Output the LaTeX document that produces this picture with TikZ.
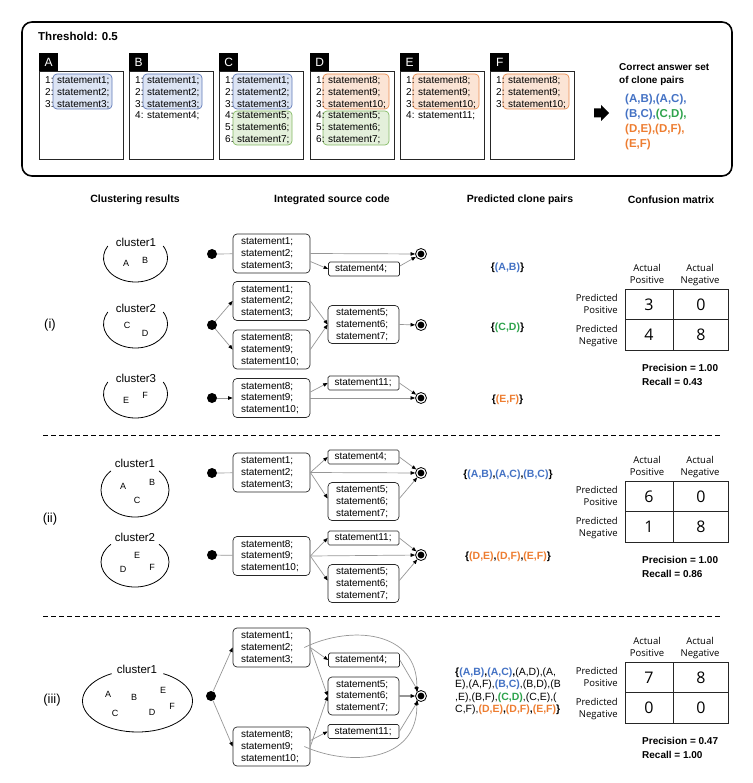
\documentclass[tikz,border=0pt]{standalone}
\usepackage{fontspec}
\setmainfont{Liberation Sans}
\newfontfamily\cmfont{Open Sans}
\usetikzlibrary{arrows.meta}

\definecolor{pairblue}{RGB}{68,114,196}
\definecolor{pairgreen}{RGB}{46,163,76}
\definecolor{pairorange}{RGB}{237,125,49}
\definecolor{bluefill}{RGB}{220,228,244}
\definecolor{blueline}{RGB}{96,122,184}
\definecolor{greenfill}{RGB}{228,240,219}
\definecolor{greenline}{RGB}{132,186,100}
\definecolor{orangefill}{RGB}{251,228,213}
\definecolor{orangeline}{RGB}{234,140,78}
\definecolor{edgegray}{RGB}{150,150,150}

\newcommand\cpb[1]{\textcolor{pairblue}{#1}}
\newcommand\cpg[1]{\textcolor{pairgreen}{#1}}
\newcommand\cpo[1]{\textcolor{pairorange}{#1}}

\tikzset{
  filebox/.style={draw=black!85, line width=0.9pt, minimum width=84pt, minimum height=88pt, anchor=north west, inner sep=0pt},
  filetag/.style={fill=black, text=white, minimum width=19pt, minimum height=18pt, anchor=north west, inner sep=0pt, font=\fontsize{12}{12}\selectfont},
  lnum/.style={anchor=base west, inner sep=0pt, font=\fontsize{10}{12}\selectfont},
  hlblue/.style={fill=bluefill, draw=blueline, line width=0.7pt, rounded corners=4pt},
  hlgreen/.style={fill=greenfill, draw=greenline, line width=0.7pt, rounded corners=4pt},
  hlorange/.style={fill=orangefill, draw=orangeline, line width=0.7pt, rounded corners=4pt},
  colhead/.style={font=\bfseries\fontsize{10.5}{12}\selectfont},
  rowlabel/.style={font=\fontsize{13}{13}\selectfont},
  cname/.style={font=\fontsize{11.5}{12}\selectfont, inner sep=0pt},
  member/.style={font=\fontsize{9}{9}\selectfont, inner sep=0pt},
  clusterarc/.style={line width=0.8pt},
  codebox/.style={draw=black!85, line width=0.7pt, rounded corners=4pt, minimum width=77pt, minimum height=39pt, text width=61pt, align=left, inner sep=0pt, font=\fontsize{10}{11.8}\selectfont},
  codesmall/.style={codebox, minimum width=71pt, minimum height=38pt, text width=55pt},
  codeline/.style={draw=black!85, line width=0.7pt, rounded corners=1.5pt, minimum width=71pt, minimum height=14pt, text width=58pt, align=left, inner sep=0pt, font=\fontsize{10}{11.8}\selectfont},
  startdot/.style={circle, fill=black, minimum size=10pt, inner sep=0pt},
  enddot/.style={circle, draw=black, line width=0.8pt, minimum size=11pt, inner sep=0pt, path picture={\fill[black] (path picture bounding box.center) circle (3.4pt);}},
  link/.style={draw=edgegray, line width=0.7pt},
  linkarrow/.style={link, -{Triangle[length=4.5pt, width=3.5pt, color=black]}},
  pairs/.style={font=\bfseries\fontsize{10.5}{12.3}\selectfont, inner sep=0pt},
  cmgrid/.style={draw=black!85, line width=0.9pt},
  cmlab/.style={font=\cmfont\fontsize{9.5}{12}\selectfont, inner sep=0pt, anchor=base},
  cmrow/.style={cmlab, anchor=base east},
  cmnum/.style={font=\cmfont\fontsize{16}{16}\selectfont, inner sep=0pt},
  score/.style={anchor=west, font=\bfseries\fontsize{10}{12}\selectfont, inner sep=0pt},
  divider/.style={line width=1pt, dash pattern=on 5pt off 3pt}
}

\begin{document}
\begin{tikzpicture}[x=1pt, y=-1pt]
\useasboundingbox (0,0) rectangle (752,783);

% top panel: input files
\draw[line width=1.6pt, rounded corners=10pt] (22,22) rectangle (732,176);
\node[anchor=west, inner sep=0pt, font=\bfseries\fontsize{11.5}{12}\selectfont] (thr) at (38,36) {Threshold: 0.5};

\node[filebox] (fA) at (39,71) {};
\node[filebox] (fB) at (129,71) {};
\node[filebox] (fC) at (219,71) {};
\node[filebox] (fD) at (310,71) {};
\node[filebox] (fE) at (400,71) {};
\node[filebox] (fF) at (490,71) {};
\node[filetag] (tA) at (39,53) {A};
\node[filetag] (tB) at (129,53) {B};
\node[filetag] (tC) at (219,53) {C};
\node[filetag] (tD) at (310,53) {D};
\node[filetag] (tE) at (400,53) {E};
\node[filetag] (tF) at (490,53) {F};

\draw[hlblue] (53,74) rectangle (112,109);
\draw[hlblue] (143,74) rectangle (202,109);
\draw[hlblue] (233,74) rectangle (292,109);
\draw[hlgreen] (233,111) rectangle (292,145);
\draw[hlorange] (323,74) rectangle (389,109);
\draw[hlgreen] (323,111) rectangle (389,145);
\draw[hlorange] (413,74) rectangle (479,109);
\draw[hlorange] (503,74) rectangle (569,109);

\foreach \f/\l/\i/\s in {A/39/1/1,A/39/2/2,A/39/3/3,
    B/129/1/1,B/129/2/2,B/129/3/3,B/129/4/4,
    C/219/1/1,C/219/2/2,C/219/3/3,C/219/4/5,C/219/5/6,C/219/6/7,
    D/310/1/8,D/310/2/9,D/310/3/10,D/310/4/5,D/310/5/6,D/310/6/7,
    E/400/1/8,E/400/2/9,E/400/3/10,E/400/4/11,
    F/490/1/8,F/490/2/9,F/490/3/10}{
  \node[lnum] (\f n\i) at ({\l+6},{83.6+11.8*(\i-1)}) {\i:};
  \node[lnum] (\f s\i) at ({\l+18},{83.6+11.8*(\i-1)}) {statement\s;};
}

\fill (594,108.5) -- (601,108.5) -- (601,105) -- (609,113) -- (601,121) -- (601,117.5) -- (594,117.5) -- cycle;
\node[anchor=west, align=left, inner sep=0pt, font=\bfseries\fontsize{10}{13}\selectfont] (anshead) at (619,74.5) {Correct answer set\\of clone pairs};
\node[anchor=west, align=left, inner sep=0pt, font=\bfseries\fontsize{11.5}{14.7}\selectfont] (ans) at (625,122) {\cpb{(A,B),(A,C),}\\\cpb{(B,C),}\cpg{(C,D),}\\\cpo{(D,E),(D,F),}\\\cpo{(E,F)}};

% column headings
\node[colhead] (h1) at (135,200) {Clustering results};
\node[colhead] (h2) at (332,200) {Integrated source code};
\node[colhead] (h3) at (520,200) {Predicted clone pairs};
\node[colhead] (h4) at (671,200) {Confusion matrix};

% (i)
\node[rowlabel] (r1) at (50,325) {(i)};
\node[cname] (n1) at (136,242) {cluster1};
\draw[clusterarc] ([shift={(210:32 and 24)}]135.5,258) arc[start angle=210, end angle=-30, x radius=32, y radius=24];
\node[member] (m1a) at (126,263) {A};
\node[member] (m1b) at (145,260) {B};
\node[cname] (n2) at (136,308) {cluster2};
\draw[clusterarc] ([shift={(210:32 and 24)}]135.5,324) arc[start angle=210, end angle=-30, x radius=32, y radius=24];
\node[member] (m2c) at (127,325) {C};
\node[member] (m2d) at (145,333) {D};
\node[cname] (n3) at (136,378) {cluster3};
\draw[clusterarc] ([shift={(210:32 and 24)}]135.5,394) arc[start angle=210, end angle=-30, x radius=32, y radius=24];
\node[member] (m3e) at (126,400) {E};
\node[member] (m3f) at (145,395) {F};

\node[startdot] (s1) at (212,254) {};
\node[codebox] (c1) at (271.5,253.5) {statement1;\\statement2;\\statement3;};
\node[codeline] (k1) at (364,269) {statement4;};
\node[enddot] (e1) at (421,254) {};
\draw[link] (s1) -- (c1);
\draw[linkarrow] (c1.east) -- (e1);
\draw[linkarrow] ([yshift=-8pt]c1.east) -- (k1.west);
\draw[linkarrow] ([yshift=3pt]k1.east) -- (e1);

\node[startdot] (s2) at (212,325) {};
\node[codebox] (c2) at (271.5,301) {statement1;\\statement2;\\statement3;};
\node[codebox] (c3) at (271.5,349.5) {statement8;\\statement9;\\statement10;};
\node[codesmall] (k2) at (363.5,324.5) {statement5;\\statement6;\\statement7;};
\node[enddot] (e2) at (421,325) {};
\draw[linkarrow] (s2) -- (c2.west);
\draw[linkarrow] (s2) -- (c3.west);
\draw[linkarrow] (c2.east) -- (k2.west);
\draw[linkarrow] (c3.east) -- (k2.west);
\draw[linkarrow] (k2.east) -- (e2);

\node[startdot] (s3) at (212,398) {};
\node[codebox] (c4) at (271.5,398) {statement8;\\statement9;\\statement10;};
\node[codeline] (k3) at (363.5,383) {statement11;};
\node[enddot] (e3) at (421,398) {};
\draw[linkarrow] (s3) -- (c4);
\draw[linkarrow] ([yshift=6pt]c4.east) -- (k3.west);
\draw[linkarrow] (c4.east) -- (e3);
\draw[linkarrow] (k3.east) -- (e3);

\node[pairs] (p1) at (507.5,268) {\{\cpb{(A,B)}\}};
\node[pairs] (p2) at (507.5,328) {\{\cpg{(C,D)}\}};
\node[pairs] (p3) at (507.5,400) {\{\cpo{(E,F)}\}};

\draw[divider] (43,435) -- (722,435);

% (ii)
\node[rowlabel] (r2) at (50,519) {(ii)};
\node[cname] (n4) at (135,463) {cluster1};
\draw[clusterarc] ([shift={(225:34 and 27)}]135,490) arc[start angle=225, end angle=-45, x radius=34, y radius=27];
\node[member] (m4a) at (123,486) {A};
\node[member] (m4b) at (152,482) {B};
\node[member] (m4c) at (137,500) {C};
\node[cname] (n5) at (135,537) {cluster2};
\draw[clusterarc] ([shift={(225:34 and 25)}]135,562) arc[start angle=225, end angle=-45, x radius=34, y radius=25];
\node[member] (m5e) at (137,555) {E};
\node[member] (m5d) at (123,569) {D};
\node[member] (m5f) at (152,567) {F};

\node[startdot] (s4) at (212,473) {};
\node[codebox] (c5) at (271.5,472.5) {statement1;\\statement2;\\statement3;};
\node[codeline] (k4) at (363.5,457) {statement4;};
\node[codesmall] (k5) at (363.5,501.5) {statement5;\\statement6;\\statement7;};
\node[enddot] (e4) at (421,473) {};
\draw[link] (s4) -- (c5);
\draw[linkarrow] (c5.east) -- (k4.west);
\draw[linkarrow] (c5.east) -- (e4);
\draw[linkarrow] (c5.east) -- ([yshift=3pt]k5.west);
\draw[linkarrow] (k4.east) -- (e4);
\draw[linkarrow] ([yshift=3pt]k5.east) -- (e4);

\node[startdot] (s5) at (212,555) {};
\node[codebox] (c6) at (271.5,556) {statement8;\\statement9;\\statement10;};
\node[codeline] (k6) at (363.5,538) {statement11;};
\node[codesmall] (k7) at (363.5,583.5) {statement5;\\statement6;\\statement7;};
\node[enddot] (e5) at (421,555) {};
\draw[link] (s5) -- (c6);
\draw[linkarrow] (c6.east) -- (k6.west);
\draw[linkarrow] (c6.east) -- (e5);
\draw[linkarrow] (c6.east) -- ([yshift=3pt]k7.west);
\draw[linkarrow] (k6.east) -- (e5);
\draw[linkarrow] ([yshift=3pt]k7.east) -- (e5);

\node[pairs] (p4) at (508,475) {\{\cpb{(A,B)},\cpb{(A,C)},\cpb{(B,C)}\}};
\node[pairs] (p5) at (508,557) {\{\cpo{(D,E)},\cpo{(D,F)},\cpo{(E,F)}\}};

\draw[divider] (43,616) -- (722,616);

% (iii)
\node[rowlabel] (r3) at (52,700) {(iii)};
\node[cname] (n6) at (137,669) {cluster1};
\draw[clusterarc] ([shift={(242:55 and 31)}]137.5,701) arc[start angle=242, end angle=-62, x radius=55, y radius=31];
\node[member] (m6a) at (108,694) {A};
\node[member] (m6b) at (134,697) {B};
\node[member] (m6e) at (163,690) {E};
\node[member] (m6f) at (172,706) {F};
\node[member] (m6c) at (115,713) {C};
\node[member] (m6d) at (152,712) {D};

\node[startdot] (s6) at (211,696) {};
\node[codebox] (c7) at (271.5,647.5) {statement1;\\statement2;\\statement3;};
\node[codebox] (c8) at (271.5,746.5) {statement8;\\statement9;\\statement10;};
\node[codeline] (k8) at (364,660) {statement4;};
\node[codesmall] (k9) at (363.5,696) {statement5;\\statement6;\\statement7;};
\node[codeline] (k10) at (363.5,731.5) {statement11;};
\node[enddot] (e6) at (421,696) {};
\draw[linkarrow] (s6) -- (c7.west);
\draw[linkarrow] (s6) -- (c8.west);
\draw[linkarrow] (c7.east) -- (k8.west);
\draw[linkarrow] (c7.east) -- (k9.west);
\draw[linkarrow] ([yshift=6pt]c8.east) -- (k10.west);
\draw[linkarrow] (c8.east) -- (k9.west);
\draw[linkarrow] ([xshift=-6pt]c7.east) .. controls (350,625) and (418,630) .. (e6.north west);
\draw[linkarrow] ([xshift=-6pt]c8.east) .. controls (350,767) and (418,762) .. (e6.south west);
\draw[linkarrow] (k8.east) -- (e6);
\draw[linkarrow, line width=1.2pt] (k9.east) -- (e6);
\draw[linkarrow] (k10.east) -- (e6);

\node[pairs, anchor=west, align=left] (p6) at (455,691.4) {\{\cpb{(A,B)},\cpb{(A,C)},{\mdseries(A,D),(A,}\\{\mdseries E),(A,F),}\cpb{(B,C)}{\mdseries,(B,D),(B}\\{\mdseries,E),(B,F),}\cpg{(C,D)}{\mdseries,(C,E),(}\\{\mdseries C,F),}\cpo{(D,E)},\cpo{(D,F)},\cpo{(E,F)}\}};

% confusion matrices
\foreach \t/\a/\b/\c/\d/\p/\r/\m in {289/3/0/4/8/1.00/0.43/1,481/6/0/1/8/1.00/0.86/2,662/7/8/0/0/0.47/1.00/3}{
  \begin{scope}[shift={(0,\t)}]
    \draw[cmgrid] (625,0) rectangle (728,61);
    \draw[cmgrid] (673,0) -- (673,61);
    \draw[cmgrid] (625,30.5) -- (728,30.5);
    \node[cmlab] (apa\m) at (647,-17.5) {Actual};
    \node[cmlab] (apb\m) at (647,-5.5) {Positive};
    \node[cmlab] (ana\m) at (700,-17.5) {Actual};
    \node[cmlab] (anb\m) at (700,-5.5) {Negative};
    \node[cmrow] (ppa\m) at (618,12.5) {Predicted};
    \node[cmrow] (ppb\m) at (618,24.5) {Positive};
    \node[cmrow] (pna\m) at (618,43.5) {Predicted};
    \node[cmrow] (pnb\m) at (618,55.5) {Negative};
    \node[cmnum] (tp\m) at (649,15.5) {\a};
    \node[cmnum] (fp\m) at (701,15.5) {\b};
    \node[cmnum] (fn\m) at (649,46) {\c};
    \node[cmnum] (tn\m) at (701,46) {\d};
    \node[score] (pr\m) at (642,79) {Precision = \p};
    \node[score] (rc\m) at (642,93) {Recall = \r};
  \end{scope}
}
\end{tikzpicture}
\end{document}
